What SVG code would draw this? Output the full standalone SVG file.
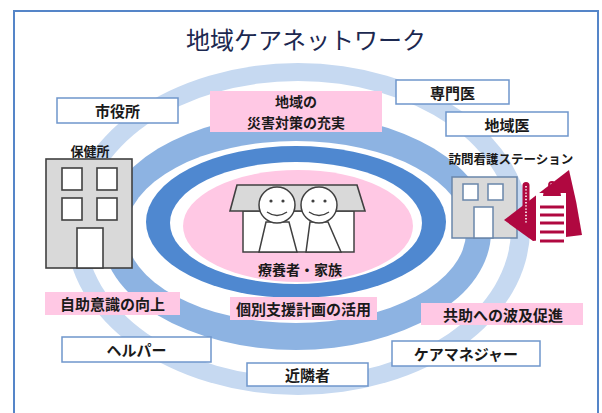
<svg xmlns="http://www.w3.org/2000/svg" width="602" height="413" viewBox="0 0 602 413">
  <style>
    .lbl { font-family: "Noto Sans CJK JP", "Noto Sans", sans-serif; font-weight: 700; fill: #1a1a1a; text-anchor: middle; dominant-baseline: central; }
    .title { font-family: "Noto Sans CJK JP", "Noto Sans", sans-serif; font-weight: 400; fill: #1c2850; text-anchor: middle; dominant-baseline: central; font-size: 24px; }
    .wbox { fill: #ffffff; stroke: #6f96cc; stroke-width: 1.5; }
    .pbox { fill: #ffc8e4; }
    .bld { fill: #d9d9d9; stroke: #404040; stroke-width: 1.6; }
    .win { fill: #ffffff; stroke: #404040; stroke-width: 1.6; }
    .bld2 { fill: #d9d9d9; stroke: #6a86aa; stroke-width: 1.5; }
    .win2 { fill: #ffffff; stroke: #6a86aa; stroke-width: 1.5; }
    .fig { fill: #ffffff; stroke: #404040; stroke-width: 1.5; }
    .crim { fill: #b00840; }
  </style>

  <!-- outer frame (open at the bottom edge of the view) -->
  <rect x="14" y="11" width="584" height="420" fill="#ffffff" stroke="#5585c8" stroke-width="2"/>

  <text class="title" x="306" y="38">地域ケアネットワーク</text>

  <!-- concentric rings around the patient and family -->
  <g id="rings">
    <ellipse cx="298" cy="229" rx="232" ry="166" fill="#c6d9f1"/>
    <ellipse cx="298" cy="229" rx="213" ry="148" fill="#ffffff"/>
    <ellipse cx="296" cy="232" rx="195" ry="118" fill="#8db3e2"/>
    <ellipse cx="296" cy="232" rx="170" ry="91" fill="#ffffff"/>
    <ellipse cx="296" cy="222" rx="150" ry="76" fill="#4f88d0"/>
    <ellipse cx="296" cy="223" rx="126" ry="61" fill="#ffffff"/>
    <ellipse cx="298" cy="226" rx="115" ry="56" fill="#ffc8e4"/>
  </g>

  <!-- patient and family: house with two people -->
  <g id="patient-family">
    <rect class="fig" x="243" y="211" width="111" height="41"/>
    <path class="bld" d="M237,185 L357,185 L365,211 L230,211 Z"/>
    <path class="fig" d="M266,222 L289,222 L297,252 L259,252 Z"/>
    <path class="fig" d="M310,222 L328,222 L341,252 L306,252 Z"/>
    <circle class="fig" cx="277" cy="205" r="18"/>
    <circle class="fig" cx="319" cy="205" r="18"/>
    <g fill="#404040">
      <circle cx="271" cy="201" r="1.6"/>
      <circle cx="283" cy="201" r="1.6"/>
      <circle cx="313" cy="201" r="1.6"/>
      <circle cx="325" cy="201" r="1.6"/>
    </g>
    <path d="M267,212 Q277,219 287,212 M309,212 Q319,219 329,212" fill="none" stroke="#404040" stroke-width="1.4"/>
    <text class="lbl" x="300" y="269" font-size="14">療養者・家族</text>
  </g>

  <!-- public health center -->
  <g id="hokenjo">
    <text class="lbl" x="90" y="150" font-size="13">保健所</text>
    <rect class="bld" x="46" y="159" width="86" height="109"/>
    <rect class="win" x="62" y="168" width="20" height="22"/>
    <rect class="win" x="97" y="168" width="20" height="22"/>
    <rect class="win" x="62" y="198" width="20" height="22"/>
    <rect class="win" x="97" y="198" width="20" height="22"/>
    <rect class="win" x="77" y="228" width="26" height="40"/>
  </g>

  <!-- visiting nurse station -->
  <g id="houmon-kango">
    <text class="lbl" x="511" y="158" font-size="12.5">訪問看護ステーション</text>
    <rect class="bld2" x="452" y="177" width="65" height="61"/>
    <rect class="win2" x="463" y="184" width="15" height="16"/>
    <rect class="win2" x="488" y="184" width="15" height="16"/>
    <rect class="win2" x="474" y="207" width="19" height="31"/>
    <path class="crim" d="M504,220 L569,170 Q577,202 582,235 L533,241 Z"/>
    <rect class="crim" x="522.5" y="182" width="7" height="44" rx="3.5"/>
    <line x1="526" y1="186" x2="526" y2="223" stroke="#ffffff" stroke-width="1.6" stroke-dasharray="1.4 1.8"/>
    <rect x="536" y="193" width="30" height="50" fill="#ffffff"/>
    <circle cx="552" cy="185" r="3" fill="none" stroke="#b00840" stroke-width="1.8"/>
    <path class="crim" d="M543,196 Q543,187 552,187 Q561,187 561,196 Z"/>
    <g stroke="#b00840" stroke-width="3">
      <line x1="540" y1="207" x2="564" y2="207"/>
      <line x1="540" y1="215" x2="564" y2="215"/>
      <line x1="540" y1="223" x2="564" y2="223"/>
      <line x1="540" y1="232" x2="564" y2="232"/>
      <line x1="540" y1="241" x2="564" y2="241"/>
    </g>
  </g>

  <!-- support members -->
  <g id="shiyakusho">
    <rect class="wbox" x="57" y="98" width="121" height="25"/>
    <text class="lbl" x="117.5" y="110.5" font-size="15">市役所</text>
  </g>
  <g id="senmoni">
    <rect class="wbox" x="396" y="80" width="113" height="24"/>
    <text class="lbl" x="452.5" y="92" font-size="15">専門医</text>
  </g>
  <g id="chiikii">
    <rect class="wbox" x="446" y="112" width="122" height="24"/>
    <text class="lbl" x="507" y="124" font-size="15">地域医</text>
  </g>
  <g id="helper">
    <rect class="wbox" x="62" y="337" width="149" height="25"/>
    <text class="lbl" x="136.5" y="349.5" font-size="15">ヘルパー</text>
  </g>
  <g id="kinrinsha">
    <rect class="wbox" x="247" y="363" width="121" height="23"/>
    <text class="lbl" x="307.5" y="374.5" font-size="15">近隣者</text>
  </g>
  <g id="caremanager">
    <rect class="wbox" x="392" y="341" width="148" height="25"/>
    <text class="lbl" x="466" y="353.5" font-size="15" font-weight="500">ケアマネジャー</text>
  </g>

  <!-- goals -->
  <g id="saigai-taisaku">
    <rect class="pbox" x="210" y="91" width="172" height="41"/>
    <text class="lbl" x="296" y="101" font-size="14">地域の</text>
    <text class="lbl" x="296" y="122" font-size="14">災害対策の充実</text>
  </g>
  <g id="jijo-ishiki">
    <rect class="pbox" x="45" y="292" width="135" height="23"/>
    <text class="lbl" x="112.5" y="303.5" font-size="15">自助意識の向上</text>
  </g>
  <g id="kobetsu-shien">
    <rect class="pbox" x="230" y="297" width="147" height="23"/>
    <text class="lbl" x="303.5" y="308.5" font-size="15">個別支援計画の活用</text>
  </g>
  <g id="kyojo">
    <rect class="pbox" x="421" y="303" width="162" height="22"/>
    <text class="lbl" x="503" y="314" font-size="15">共助への波及促進</text>
  </g>
</svg>
